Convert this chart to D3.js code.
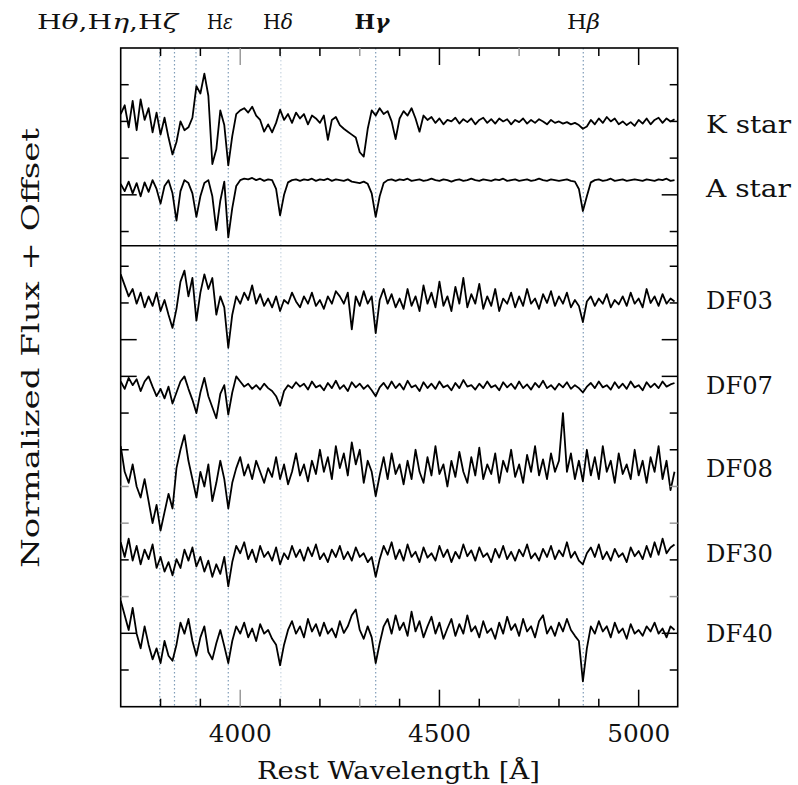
<!DOCTYPE html>
<html><head><meta charset="utf-8">
<script src="https://cdn.jsdelivr.net/npm/d3@7"></script>
<style>body{margin:0;background:#fff}svg{display:block}text{font-family:"DejaVu Serif",serif;fill:#111}</style>
</head><body><div id="chart"></div>
<script>
const wavelengths = [3700,3710,3720,3730,3740,3750,3760,3770,3780,3790,3800,3810,3820,3830,3840,3850,3860,3870,3880,3890,3900,3910,3920,3930,3940,3950,3960,3970,3980,3990,4000,4010,4020,4030,4040,4050,4060,4070,4080,4090,4100,4110,4120,4130,4140,4150,4160,4170,4180,4190,4200,4210,4220,4230,4240,4250,4260,4270,4280,4290,4300,4310,4320,4330,4340,4350,4360,4370,4380,4390,4400,4410,4420,4430,4440,4450,4460,4470,4480,4490,4500,4510,4520,4530,4540,4550,4560,4570,4580,4590,4600,4610,4620,4630,4640,4650,4660,4670,4680,4690,4700,4710,4720,4730,4740,4750,4760,4770,4780,4790,4800,4810,4820,4830,4840,4850,4860,4870,4880,4890,4900,4910,4920,4930,4940,4950,4960,4970,4980,4990,5000,5010,5020,5030,5040,5050,5060,5070,5080,5090];

const kStar = [1.10,1.22,0.92,1.28,0.88,1.30,1.02,1.18,0.85,1.12,0.82,1.05,0.78,0.55,0.72,1.00,0.88,0.92,1.05,1.48,1.38,1.65,1.35,0.42,0.62,1.15,0.95,0.40,0.80,1.10,1.15,1.18,1.12,1.20,1.08,1.02,0.86,0.96,0.85,0.98,1.16,1.02,1.10,0.98,1.12,1.04,1.10,0.96,1.08,1.04,0.98,1.08,0.75,1.02,1.06,0.95,0.90,0.86,0.82,0.78,0.58,0.52,0.90,1.15,1.08,1.18,1.10,1.14,1.00,0.76,1.04,1.14,1.08,1.18,1.04,0.86,1.08,1.02,1.06,0.98,1.04,0.96,1.02,1.00,1.05,0.97,1.03,0.99,1.04,0.96,1.02,1.05,0.98,1.03,0.97,1.04,1.00,1.03,0.96,1.02,0.99,1.04,0.97,1.02,0.98,1.03,1.00,0.96,1.02,0.98,1.00,0.97,0.99,0.96,0.98,0.95,0.90,0.93,1.02,0.96,1.04,0.98,1.06,1.00,1.04,0.96,1.00,0.95,0.99,0.94,1.02,0.97,1.04,0.96,1.02,1.05,0.98,1.04,1.00,1.03];

const aStar = [0.95,0.85,0.98,0.82,0.96,0.78,0.97,0.84,1.00,0.88,0.68,0.92,1.00,0.82,0.45,0.85,1.00,0.96,0.82,0.50,0.78,0.96,1.00,0.78,0.32,0.72,0.98,0.22,0.62,0.92,1.00,1.02,1.01,1.03,1.00,1.02,0.99,1.01,1.00,0.88,0.52,0.80,0.97,1.00,1.01,0.99,1.01,1.00,1.02,0.99,1.01,1.00,1.02,0.99,1.01,1.00,0.99,1.01,0.98,0.97,0.96,0.98,0.95,0.82,0.50,0.78,0.96,1.00,1.01,0.99,1.01,1.00,1.02,0.99,1.00,1.01,0.99,1.00,1.02,1.00,0.99,1.01,1.00,0.98,1.00,1.01,0.99,1.00,1.02,1.00,0.99,1.01,1.00,0.99,1.01,1.00,1.02,0.99,1.00,1.01,0.99,1.00,1.01,0.99,1.00,1.02,1.00,0.99,1.01,1.00,0.99,1.00,1.01,0.99,0.98,0.88,0.58,0.78,0.97,1.00,1.01,0.99,1.00,1.02,0.99,1.00,1.01,0.99,1.00,1.01,1.00,0.99,1.01,1.00,0.99,1.01,1.00,1.02,0.99,1.00];

const df03 = [1.35,1.20,1.05,1.15,0.95,1.10,0.90,1.05,0.92,1.10,0.85,1.00,0.80,0.62,0.88,1.25,1.40,1.05,1.30,0.72,1.10,1.35,1.15,1.30,0.80,1.05,0.90,0.35,0.80,1.05,0.95,1.10,1.00,1.20,0.95,1.08,0.92,1.02,0.90,1.05,0.85,1.00,0.95,1.10,0.98,0.90,1.05,0.95,1.10,0.92,1.00,0.88,1.05,0.95,1.12,1.05,0.95,1.10,0.60,1.05,0.92,1.12,0.95,1.05,0.55,1.00,1.15,0.95,1.08,0.90,1.02,0.88,1.15,0.92,1.05,0.85,1.20,0.95,1.10,0.90,1.25,0.92,1.05,0.85,1.18,0.95,1.30,0.90,1.08,0.95,1.22,0.88,1.05,0.92,1.15,0.85,1.02,0.95,1.10,0.90,1.05,0.92,1.15,0.95,1.02,0.88,1.08,0.96,1.12,0.92,1.05,0.95,1.10,0.90,1.00,0.92,0.70,0.98,1.05,0.92,1.02,0.95,1.08,0.90,1.00,0.94,1.05,0.92,1.10,0.95,1.02,0.90,1.15,0.96,1.05,0.92,1.08,0.95,1.02,0.98];

const df07 = [1.05,0.95,1.10,1.00,1.08,0.92,1.05,1.12,0.98,0.85,0.95,0.82,0.98,0.75,0.90,1.05,1.12,0.95,0.80,0.62,0.90,1.10,0.85,0.70,0.55,0.88,1.00,0.60,0.90,1.12,1.05,0.98,1.02,0.95,1.00,0.94,1.02,0.96,0.92,0.85,0.72,0.92,1.00,0.96,1.04,0.98,1.02,0.94,1.05,0.97,1.00,0.93,1.03,0.96,1.06,0.95,1.00,0.92,1.04,0.97,1.02,0.95,1.00,0.93,0.85,0.97,1.03,0.95,1.05,0.96,1.02,0.94,1.06,0.97,1.00,0.92,1.04,0.96,1.02,0.95,1.05,0.97,1.00,0.93,1.03,0.96,1.07,0.98,1.00,0.94,1.02,0.96,1.05,0.97,1.00,0.93,1.04,0.97,1.02,0.95,1.05,0.96,1.01,0.94,1.03,0.97,1.06,0.96,1.00,0.94,1.02,0.97,1.04,0.95,1.00,0.96,0.90,0.98,1.03,0.96,1.05,0.97,1.00,0.94,1.04,0.96,1.02,0.95,1.05,0.97,1.00,0.93,1.04,0.97,1.02,0.96,1.05,0.98,1.01,1.03];

const df08 = [1.30,0.95,0.80,1.05,0.75,0.60,0.85,0.55,0.25,0.50,0.15,0.40,0.65,0.45,1.00,1.25,1.45,1.10,0.85,0.60,0.95,0.75,1.05,0.55,0.80,1.10,0.85,0.45,0.80,1.00,1.15,0.90,1.05,0.85,1.10,0.95,0.80,1.00,0.88,1.15,0.85,1.05,0.78,0.95,1.20,0.90,1.05,0.82,1.10,0.92,1.25,0.95,1.15,0.85,1.30,1.00,1.20,0.90,1.35,1.05,1.25,0.80,1.10,0.95,0.62,0.90,1.15,0.85,1.20,0.92,1.05,0.78,1.10,0.85,1.25,0.95,0.80,1.15,0.90,1.30,0.92,1.05,0.75,1.10,0.88,1.22,0.95,0.80,1.15,0.90,1.28,0.85,1.05,0.92,1.20,0.80,1.10,0.95,1.25,0.88,1.05,0.80,1.18,0.95,1.30,0.90,1.12,0.85,1.20,0.95,1.10,1.75,0.95,1.20,0.85,1.10,0.82,1.25,0.90,1.15,0.85,1.30,0.95,1.10,0.80,1.20,0.92,1.05,0.85,1.25,0.90,1.10,0.80,1.15,0.95,1.30,0.85,1.10,0.70,0.95];

const df30 = [1.15,0.95,1.20,0.90,1.10,0.85,1.05,0.92,1.12,0.80,0.95,0.75,0.88,0.70,0.92,0.80,1.05,0.90,1.08,0.82,0.95,0.75,0.90,0.68,0.85,0.72,0.95,0.55,0.88,1.10,1.00,1.15,0.92,1.05,0.88,1.10,0.95,1.02,0.90,1.08,0.85,1.00,0.92,1.10,0.95,1.05,0.90,1.08,0.96,1.12,0.92,1.00,0.88,1.05,0.95,1.10,0.92,1.02,0.90,1.08,0.95,1.00,0.88,0.95,0.68,0.92,1.10,0.98,1.15,0.92,1.05,0.90,1.12,0.95,1.02,0.88,1.08,0.94,1.00,0.90,1.10,0.95,1.05,0.88,1.02,0.93,1.12,0.96,1.04,0.90,1.08,0.95,1.00,0.88,1.06,0.94,1.10,0.92,1.02,0.90,1.05,0.96,1.12,0.93,1.00,0.90,1.06,0.95,1.10,0.92,1.04,0.96,1.15,0.94,1.02,0.90,0.85,1.00,1.08,0.95,1.12,0.92,1.02,0.90,1.06,0.95,1.00,0.88,1.08,0.96,1.03,0.92,1.10,0.95,1.15,0.98,1.20,1.00,1.08,1.12];

const df40 = [1.40,1.20,1.00,1.30,0.95,0.75,1.05,0.80,0.60,0.75,0.55,0.85,0.65,0.58,0.80,1.10,0.95,1.15,0.85,0.65,0.90,1.05,0.70,0.60,0.82,1.00,0.78,0.55,0.85,1.05,0.95,1.10,0.90,1.02,0.85,1.08,0.95,1.00,0.88,0.80,0.52,0.80,1.00,1.12,0.95,1.05,0.90,1.15,0.98,1.08,0.92,1.10,0.95,1.02,0.90,1.12,0.96,1.05,1.20,1.28,1.00,0.88,1.05,0.90,0.55,0.82,1.05,1.15,0.95,1.20,1.00,1.10,0.92,1.25,0.98,1.12,0.90,1.05,1.18,0.95,1.10,0.88,1.02,1.15,0.92,1.08,0.95,1.20,0.98,1.05,0.90,1.12,0.96,1.02,0.88,1.10,0.95,1.18,1.00,1.08,0.92,1.15,0.98,1.05,0.90,1.12,1.20,0.95,1.05,0.92,1.10,0.98,1.15,1.00,0.92,0.85,0.30,0.75,1.05,0.95,1.12,0.98,1.05,0.90,1.10,0.96,1.02,0.88,1.08,0.95,1.00,0.92,1.05,0.98,1.10,0.95,1.02,0.90,1.05,1.00];

const spectrumNames = ["K star","A star","DF03","DF07","DF08","DF30","DF40"];
const spectrumFlux = [kStar, aStar, df03, df07, df08, df30, df40];
const spectrumOffsets = [1.0, 0.2, 4.54, 3.38, 2.25, 1.09, 0.045];
const spectrumPanel = ["top","top","bottom","bottom","bottom","bottom","bottom"];

const lineNames = ["Hθ","Hη","Hζ","Hε","Hδ","Hγ","Hβ"];
const lineWavelengths = [3798, 3835, 3889, 3970, 4102, 4340, 4861];
const topLabels = [["θ","η","ζ"],["ε"],["δ"],["γ"],["β"]];

const xTickValues = [3800,3900,4000,4100,4200,4300,4400,4500,4600,4700,4800,4900,5000];
const xTickLabels = [4000,4500,5000];
const topYTicks = [0.5,1.0,1.5,2.0,2.5];
const bottomYTicks = [0.5,1.0,1.5,2.0,2.5,3.0,3.5,4.0,4.5,5.0,5.5,6.0];

const W = 798, H = 785;
const L = 120.7, R = 677.7, T = 48, B = 706.7, MID = 245.7;

const svg = d3.select("#chart").append("svg").attr("width", W).attr("height", H);

const x = d3.scaleLinear().domain([3700, 5098]).range([L, R]);
const yTop = d3.scaleLinear().domain([0.307, 3.0]).range([MID, T]);
const yBot = d3.scaleLinear().domain([0, 6.28]).range([B, MID]);

const defs = svg.append("defs");
defs.append("clipPath").attr("id","clipTop").append("rect").attr("x",L).attr("y",T).attr("width",R-L).attr("height",MID-T);
defs.append("clipPath").attr("id","clipBot").append("rect").attr("x",L).attr("y",MID).attr("width",R-L).attr("height",B-MID);

// dotted hydrogen lines
svg.append("g").selectAll("line").data(lineWavelengths).join("line")
  .attr("x1", d => x(d)).attr("x2", d => x(d))
  .attr("y1", T).attr("y2", B)
  .attr("stroke", (d,i) => i === 4 ? "#c9d6e2" : "#7f9cb8")
  .attr("stroke-width", 1.2)
  .attr("stroke-dasharray", "1.5,2.5");

// spectra
spectrumFlux.forEach((flux, k) => {
  const ys = spectrumPanel[k] === "top" ? yTop : yBot;
  const off = spectrumOffsets[k];
  const line = d3.line().curve(d3.curveLinear)
    .x((d,i) => x(wavelengths[i]))
    .y(d => ys(d + off));
  svg.append("path").datum(flux)
    .attr("clip-path", spectrumPanel[k] === "top" ? "url(#clipTop)" : "url(#clipBot)")
    .attr("d", line)
    .attr("fill","none").attr("stroke","#000").attr("stroke-width",1.8)
    .attr("stroke-linejoin","round");
});

// frame
svg.append("rect").attr("x",L).attr("y",T).attr("width",R-L).attr("height",B-T)
  .attr("fill","none").attr("stroke","#000").attr("stroke-width",1.6);
svg.append("line").attr("x1",L).attr("x2",R).attr("y1",MID).attr("y2",MID)
  .attr("stroke","#000").attr("stroke-width",1.6);

// x ticks (top and bottom, inward)
const grayX = [4000,4300,4700];
const xt = svg.append("g");
xTickValues.forEach(v => {
  const len = xTickLabels.includes(v) ? 17 : 8;
  const col = grayX.includes(v) ? "#9a9a9a" : "#000";
  xt.append("line").attr("x1",x(v)).attr("x2",x(v)).attr("y1",B).attr("y2",B-len).attr("stroke",col).attr("stroke-width",1.5);
  xt.append("line").attr("x1",x(v)).attr("x2",x(v)).attr("y1",T).attr("y2",T+len).attr("stroke",col).attr("stroke-width",1.5);
});
// tick labels
svg.append("g").selectAll("text").data(xTickLabels).join("text")
  .attr("x", d => x(d)).attr("y", 742).attr("text-anchor","middle")
  .attr("font-size", 24).attr("textLength", 63).attr("lengthAdjust","spacingAndGlyphs")
  .text(d => d);

// y ticks
const longTop = [1.0], longBot = [1.0, 4.5, 5.0], grayBot = [1.5, 2.5, 3.0];
const yt = svg.append("g");
topYTicks.forEach(v => {
  const len = longTop.includes(v) ? 16 : 8;
  const yy = yTop(v);
  yt.append("line").attr("x1",L).attr("x2",L+len).attr("y1",yy).attr("y2",yy).attr("stroke","#000").attr("stroke-width",1.5);
  yt.append("line").attr("x1",R).attr("x2",R-len).attr("y1",yy).attr("y2",yy).attr("stroke","#000").attr("stroke-width",1.5);
});
bottomYTicks.forEach(v => {
  const len = longBot.includes(v) ? 16 : 8;
  const col = grayBot.includes(v) ? "#9a9a9a" : "#000";
  const yy = yBot(v);
  yt.append("line").attr("x1",L).attr("x2",L+len).attr("y1",yy).attr("y2",yy).attr("stroke",col).attr("stroke-width",1.5);
  yt.append("line").attr("x1",R).attr("x2",R-len).attr("y1",yy).attr("y2",yy).attr("stroke",col).attr("stroke-width",1.5);
});

// top line labels: "H" upright + italic Greek letter, comma separated
const topLabelPos = [[107.5,141],[220,26],[278,30],[372,35],[583.5,33]];
const tl = svg.append("g");
topLabels.forEach((greeks, i) => {
  const t = tl.append("text").attr("x", topLabelPos[i][0]).attr("y", 29)
    .attr("text-anchor","middle").attr("font-size", 20)
    .attr("font-weight", greeks[0] === "γ" ? "bold" : "normal")
    .attr("textLength", topLabelPos[i][1]).attr("lengthAdjust","spacingAndGlyphs");
  greeks.forEach((g, j) => {
    t.append("tspan").text((j > 0 ? "," : "") + "H");
    t.append("tspan").attr("font-style","italic").text(g);
  });
});

// spectrum labels
const labelBase = [133, 197, 309, 394, 477, 562, 642];
svg.append("g").selectAll("text").data(spectrumNames).join("text")
  .attr("x", 706).attr("y", (d,i) => labelBase[i])
  .attr("font-size", 24)
  .attr("textLength", d => d.length === 6 ? 85 : 67).attr("lengthAdjust","spacingAndGlyphs")
  .text(d => d);

// axis titles
svg.append("text").attr("x", 398.5).attr("y", 779).attr("text-anchor","middle")
  .attr("font-size", 24).attr("textLength", 283).attr("lengthAdjust","spacingAndGlyphs")
  .text("Rest Wavelength [Å]");
svg.append("text").attr("transform","translate(39,348) rotate(-90)").attr("text-anchor","middle")
  .attr("font-size", 24).attr("textLength", 440).attr("lengthAdjust","spacingAndGlyphs")
  .text("Normalized Flux + Offset");
</script></body></html>
